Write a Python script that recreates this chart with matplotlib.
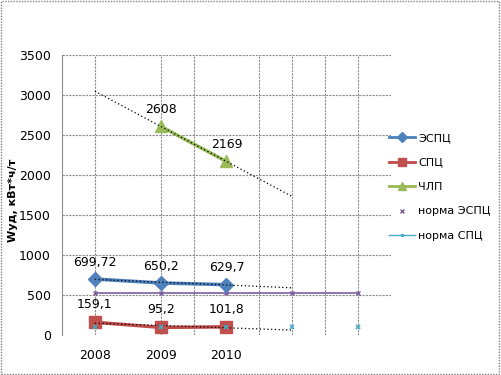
import matplotlib
matplotlib.use("Agg")
import matplotlib.pyplot as plt
from matplotlib.lines import Line2D
import numpy as np

plt.rcParams['font.family'] = ['DejaVu Sans']

# категории (две последние без подписи)
cats = [1, 2, 3, 4, 5]
cat_labels = ['2008', '2009', '2010', '', '']

esps = [699.72, 650.2, 629.7]
esps_lbl = ['699,72', '650,2', '629,7']
sps = [159.1, 95.2, 101.8]
sps_lbl = ['159,1', '95,2', '101,8']
chlp_x = [2, 3]
chlp = [2608, 2169]
chlp_lbl = ['2608', '2169']
norm_esps = [520, 520, 520, 520, 520]
norm_sps = [100, 100, 100, 100, 100]

fig = plt.figure(figsize=(5.01, 3.75), dpi=100)
ax = fig.add_axes([62/501, 1-335/375, (391-62)/501, 280/375])

grid_kw = dict(color='#8c8c8c', lw=0.8, ls=(0, (2, 1)), zorder=0)
for y in range(500, 3501, 500):
    ax.axhline(y, **grid_kw)
for x in [1, 2, 2.5, 3.5, 4, 4.5, 5]:
    ax.axvline(x, **grid_kw)


def trend(xs, ys, x0, x1):
    k, b = np.polyfit(xs, ys, 1)
    xx = np.array([x0, x1])
    ax.plot(xx, k*xx + b, color='black', lw=0.9, ls=(0, (1, 2)), zorder=4)


ax.plot(cats, norm_esps, color='#7D60A0', lw=1.2, marker='x', ms=3, zorder=2)
ax.plot(cats, norm_sps, color='#46AAC5', lw=0, marker='x', ms=3, mew=1.2, zorder=5)

ax.plot(cats[:3], esps, color='#4A7EBB', lw=2.5, marker='D', ms=7,
        mfc='#4F81BD', mec='#4F81BD', zorder=3)
ax.plot(cats[:3], sps, color='#BE4B48', lw=2.5, marker='s', ms=9,
        mfc='#C0504D', mec='#C0504D', zorder=3)
ax.plot(chlp_x, chlp, color='#98B954', lw=2.5, marker='^', ms=9,
        mfc='#9BBB59', mec='#9BBB59', zorder=3)

trend(cats[:3], esps, 1, 4)
trend(cats[:3], sps, 1, 4)
trend(chlp_x, chlp, 1, 4)

for x, y, t in zip(cats[:3], esps, esps_lbl):
    ax.text(x, y + 130, t, ha='center', va='bottom', fontsize=9)
ax.text(1, 159.1 + 140, sps_lbl[0], ha='center', va='bottom', fontsize=9)
ax.text(2, 95.2 + 140, sps_lbl[1], ha='center', va='bottom', fontsize=9)
ax.text(3, 101.8 + 140, sps_lbl[2], ha='center', va='bottom', fontsize=9)
for x, y, t in zip(chlp_x, chlp, chlp_lbl):
    ax.text(x, y + 130, t, ha='center', va='bottom', fontsize=9)

ax.set_xlim(0.5, 5.5)
ax.set_ylim(0, 3500)
ax.set_yticks(range(0, 3501, 500))
ax.set_xticks(cats)
ax.set_xticklabels(cat_labels)
ax.tick_params(length=0, labelsize=9, pad=8)
ax.tick_params(axis='x', pad=10)
for s in ['top', 'right', 'bottom']:
    ax.spines[s].set_visible(False)
ax.spines['left'].set_color('#8c8c8c')
fig.text(13/501, 1-200/375, 'Wуд, кВт*ч/т', rotation=90, ha='center', va='center',
         fontsize=8, fontweight='bold')

handles = [
    Line2D([], [], color='#4A7EBB', lw=2, marker='D', ms=5, mfc='#4F81BD', mec='#4F81BD'),
    Line2D([], [], color='#BE4B48', lw=2, marker='s', ms=6, mfc='#C0504D', mec='#C0504D'),
    Line2D([], [], color='#98B954', lw=2, marker='^', ms=6, mfc='#9BBB59', mec='#9BBB59'),
    Line2D([], [], color='#7D60A0', lw=0, marker='x', ms=3),
    Line2D([], [], color='#46AAC5', lw=1, marker='.', ms=3),
]
names = ['ЭСПЦ', 'СПЦ', 'ЧЛП', 'норма ЭСПЦ', 'норма СПЦ']
fig.legend(handles, names, loc='center left', bbox_to_anchor=(379/501, 1-187/375),
           frameon=False, fontsize=8, labelspacing=1.3, handlelength=2.3,
           handletextpad=0.3)

fig.patches.append(plt.Rectangle((0.002, 0.003), 0.995, 0.994, transform=fig.transFigure,
                                 fill=False, ec='#808080', lw=1, ls=(0, (1, 1))))

fig.savefig('out.png', dpi=100)
